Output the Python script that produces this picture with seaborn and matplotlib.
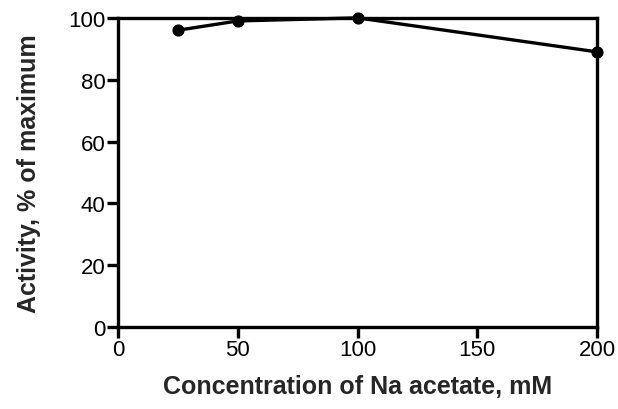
import matplotlib
matplotlib.use("Agg")
import matplotlib.pyplot as plt
import seaborn as sns
import pandas as pd

# Data
concentration = [25, 50, 100, 200]
activity = [96, 99, 100, 89]

df = pd.DataFrame({"conc": concentration, "activity": activity})

sns.set_style("ticks")
plt.rcParams['font.family'] = ['Liberation Sans', 'DejaVu Sans']

fig = plt.figure(figsize=(6.18, 4.10), dpi=100)
ax = fig.add_axes([0.191, 0.2, 0.775, 0.754])

sns.lineplot(data=df, x="conc", y="activity", ax=ax, color="black",
             linewidth=2.4, marker="o", markersize=8, markeredgecolor="black",
             clip_on=False, zorder=5)

ax.set_xlim(0, 200)
ax.set_ylim(0, 100)
ax.set_xticks([0, 50, 100, 150, 200])
ax.set_yticks([0, 20, 40, 60, 80, 100])
for s in ax.spines.values():
    s.set_linewidth(2.4)
    s.set_color("black")
ax.tick_params(width=2.4, length=8, labelsize=16, colors="black", pad=1)
ax.set_xlabel("Concentration of Na acetate, mM", fontsize=18, fontweight="bold", labelpad=10)
ax.set_ylabel("Activity, % of maximum", fontsize=18, fontweight="bold", labelpad=20)

fig.savefig("out.png", dpi=100)
